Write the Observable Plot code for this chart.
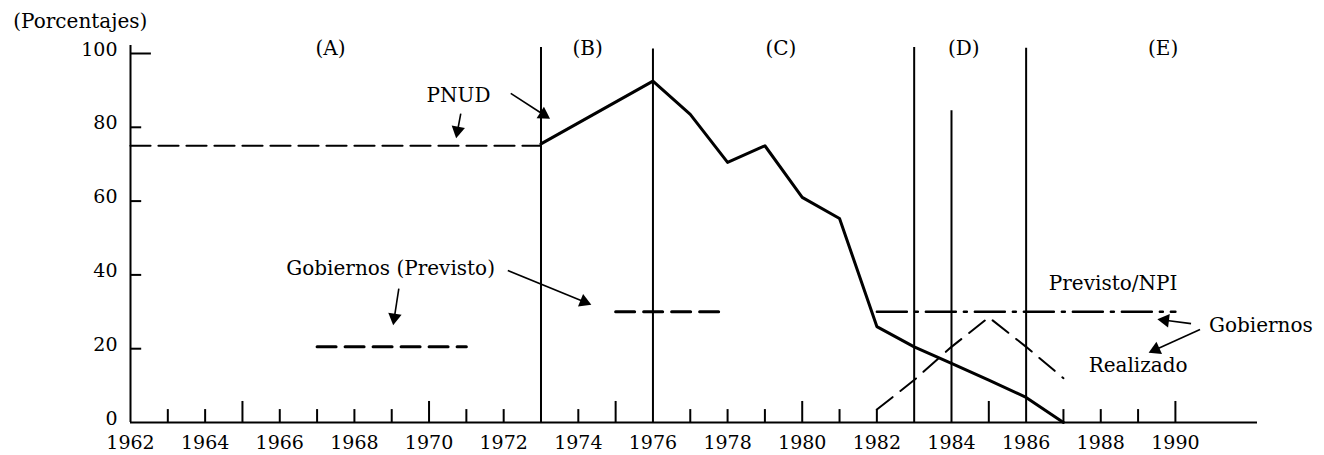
<!DOCTYPE html>
<html>
<head>
<meta charset="utf-8">
<script src="https://cdn.jsdelivr.net/npm/d3@7"></script>
<script src="https://cdn.jsdelivr.net/npm/@observablehq/plot@0.6"></script>
<style>
  html, body { margin: 0; padding: 0; background: #fff; }
  #chart svg { display: block; }
</style>
</head>
<body>
<div id="chart"></div>
<script>
// ---------------- DATA ----------------
// PNUD (planned share, dashed) 1962–1973
const pnudPlanYears  = [1962, 1973];
const pnudPlanValues = [75, 75];

// PNUD (solid line) 1973–1987
const pnudYears  = [1973, 1976, 1977, 1978, 1979, 1980, 1981, 1982, 1983, 1984, 1985, 1986, 1987];
const pnudValues = [75.5, 92.5, 83.5, 70.5, 75, 61, 55.3, 26, 20.5, 16, 11.5, 6.8, 0];

// Gobiernos (Previsto), two dashed segments
const govPlanSegment = ["A", "A", "B", "B"];
const govPlanYears   = [1967, 1971, 1975, 1978];
const govPlanValues  = [20.5, 20.5, 30, 30];

// Gobiernos Previsto/NPI (dash-dot)
const npiYears  = [1982, 1990];
const npiValues = [30, 30];

// Gobiernos Realizado (dashed)
const realYears  = [1982, 1983, 1984, 1985, 1986, 1987];
const realValues = [3.5, 11.5, 20.5, 28.5, 20.5, 12];

// Period dividers
const dividerYears = [1973, 1976, 1983, 1984, 1986];
const dividerTops  = [101.6, 101.2, 101.6, 84.5, 101.4];

// Period labels
const periodLabels  = ["(A)", "(B)", "(C)", "(D)", "(E)"];
const periodCenters = [1967.36, 1974.25, 1979.43, 1984.33, 1989.67];

// Axis ticks
const yTickValues  = [0, 20, 40, 60, 80, 100];
const xTickLabels  = [1962, 1964, 1966, 1968, 1970, 1972, 1974, 1976, 1978, 1980, 1982, 1984, 1986, 1988, 1990];
const xMinorTicks  = [1963, 1964, 1965, 1966, 1967, 1968, 1969, 1970, 1971, 1972, 1974, 1975, 1977, 1978, 1979, 1980, 1981, 1982, 1985, 1987, 1988, 1989, 1990];

// Annotation texts
const noteTexts = ["(Porcentajes)", "PNUD", "Gobiernos (Previsto)", "Previsto/NPI", "Gobiernos", "Realizado"];
const noteYears = [1958.86, 1970.79, 1968.97, 1988.33, 1990.9, 1989.0];
const noteVals  = [108.7, 88.6, 41.7, 37.7, 26.3, 15.4];
const noteAnchor = ["start", "middle", "middle", "middle", "start", "middle"];

// Annotation arrows (from -> to)
const arrowX1 = [1972.19, 1970.85, 1972.11, 1969.19, 1990.42, 1990.66];
const arrowY1 = [89.2, 83.7, 41.2, 36.3, 26.8, 25.2];
const arrowX2 = [1973.18, 1970.74, 1974.28, 1969.05, 1989.59, 1989.35];
const arrowY2 = [82.7, 77.8, 32.2, 27.1, 27.9, 19.2];

// ---------------- LAYOUT ----------------
const W = 1324, H = 455, ML = 130, MR = 67, MT = 53, MB = 33;
const FONT = "DejaVu Serif";
const FS = 20;      // annotation font size
const FS_AX = 19;   // tick label font size
const xMin = 1962, xMax = 1992.2;
const kx = (W - ML - MR) / (xMax - xMin);   // px per year
const ky = (H - MT - MB) / 100;            // px per percent

// ---------------- TABLES ----------------
const zip = (xs, ys) => xs.map((x, i) => ({x, y: ys[i]}));
const pnudPlan = zip(pnudPlanYears, pnudPlanValues);
const pnud = zip(pnudYears, pnudValues);
const govPlan = govPlanYears.map((x, i) => ({x, y: govPlanValues[i], seg: govPlanSegment[i]}));
const npi = zip(npiYears, npiValues);
const real = zip(realYears, realValues);
const dividers = dividerYears.map((x, i) => ({x, top: dividerTops[i]}));
const periods = periodLabels.map((t, i) => ({t, x: periodCenters[i]}));
const notes = noteTexts.map((t, i) => ({t, x: noteYears[i], y: noteVals[i], a: noteAnchor[i]}));
const HEAD = 5; // px back-offset of triangle head centre
const arrows = arrowX1.map((x1, i) => {
  const x2 = arrowX2[i], y1 = arrowY1[i], y2 = arrowY2[i];
  const dx = (x2 - x1) * kx, dy = -(y2 - y1) * ky;
  const len = Math.hypot(dx, dy);
  const ux = dx / len, uy = dy / len;
  return {
    x1, y1, x2, y2,
    hx: x2 - ux * HEAD / kx,
    hy: y2 + uy * HEAD / ky,
    lx: x2 - ux * (HEAD + 2) / kx,
    ly: y2 + uy * (HEAD + 2) / ky,
    rot: Math.atan2(ux, -uy) * 180 / Math.PI
  };
});

const chart = Plot.plot({
  width: W,
  height: H,
  marginLeft: ML,
  marginRight: MR,
  marginTop: MT,
  marginBottom: MB,
  x: {domain: [xMin, xMax]},
  y: {domain: [0, 100]},
  style: {background: "white", color: "black", fontFamily: FONT, fontSize: FS + "px", overflow: "visible"},
  marks: [
    // axes lines
    Plot.ruleY([0], {x1: xMin, x2: xMax, stroke: "black", strokeWidth: 2}),
    Plot.ruleX([xMin], {y1: 0, y2: 102.2, stroke: "black", strokeWidth: 2}),
    // inward ticks
    Plot.ruleX(xMinorTicks, {x: d => d, y1: 0, y2: d => (d % 5 === 0 ? 5.7 : 3.5), stroke: "black", strokeWidth: 2}),
    Plot.ruleY(yTickValues.filter(d => d > 0), {y: d => d, x1: xMin, x2: d => xMin + (d === 100 ? 0.56 : 0.3), stroke: "black", strokeWidth: 2}),
    // tick labels
    Plot.axisX({ticks: xTickLabels, tickSize: 0, tickPadding: 13, tickFormat: d => String(d), fontSize: FS_AX, fontFamily: FONT, label: null}),
    Plot.axisY({ticks: yTickValues, tickSize: 0, tickPadding: 13, dy: -4, tickFormat: d => String(d), fontSize: FS_AX, fontFamily: FONT, label: null}),
    // dividers
    Plot.ruleX(dividers, {x: "x", y1: 0, y2: "top", stroke: "black", strokeWidth: 2}),
    // series
    Plot.line(pnudPlan, {x: "x", y: "y", stroke: "black", strokeWidth: 2.2, strokeDasharray: "20,8"}),
    Plot.line(pnud, {x: "x", y: "y", stroke: "black", strokeWidth: 3, strokeLinejoin: "round"}),
    Plot.line(govPlan, {x: "x", y: "y", z: "seg", stroke: "black", strokeWidth: 3, strokeDasharray: "19,9"}),
    Plot.line(npi, {x: "x", y: "y", stroke: "black", strokeWidth: 2.5, strokeDasharray: "30,8,3,8"}),
    Plot.line(real, {x: "x", y: "y", stroke: "black", strokeWidth: 2, strokeDasharray: "20,10"}),
    // labels
    Plot.text(periods, {x: "x", y: 101.4, text: "t", fontSize: FS, fontFamily: FONT, fill: "black"}),
    Plot.text(notes, {x: "x", y: "y", text: "t", textAnchor: "start", fontSize: FS, fontFamily: FONT, fill: "black", filter: d => d.a === "start"}),
    Plot.text(notes, {x: "x", y: "y", text: "t", textAnchor: "middle", fontSize: FS, fontFamily: FONT, fill: "black", filter: d => d.a === "middle"}),
    // annotation arrows: shaft + filled triangular head
    Plot.link(arrows, {x1: "x1", y1: "y1", x2: "lx", y2: "ly", stroke: "black", strokeWidth: 1.6}),
    Plot.dot(arrows, {x: "hx", y: "hy", symbol: "triangle", r: 5, fill: "black", stroke: "none", rotate: "rot"})
  ]
});

document.getElementById("chart").appendChild(chart);
</script>
</body>
</html>
